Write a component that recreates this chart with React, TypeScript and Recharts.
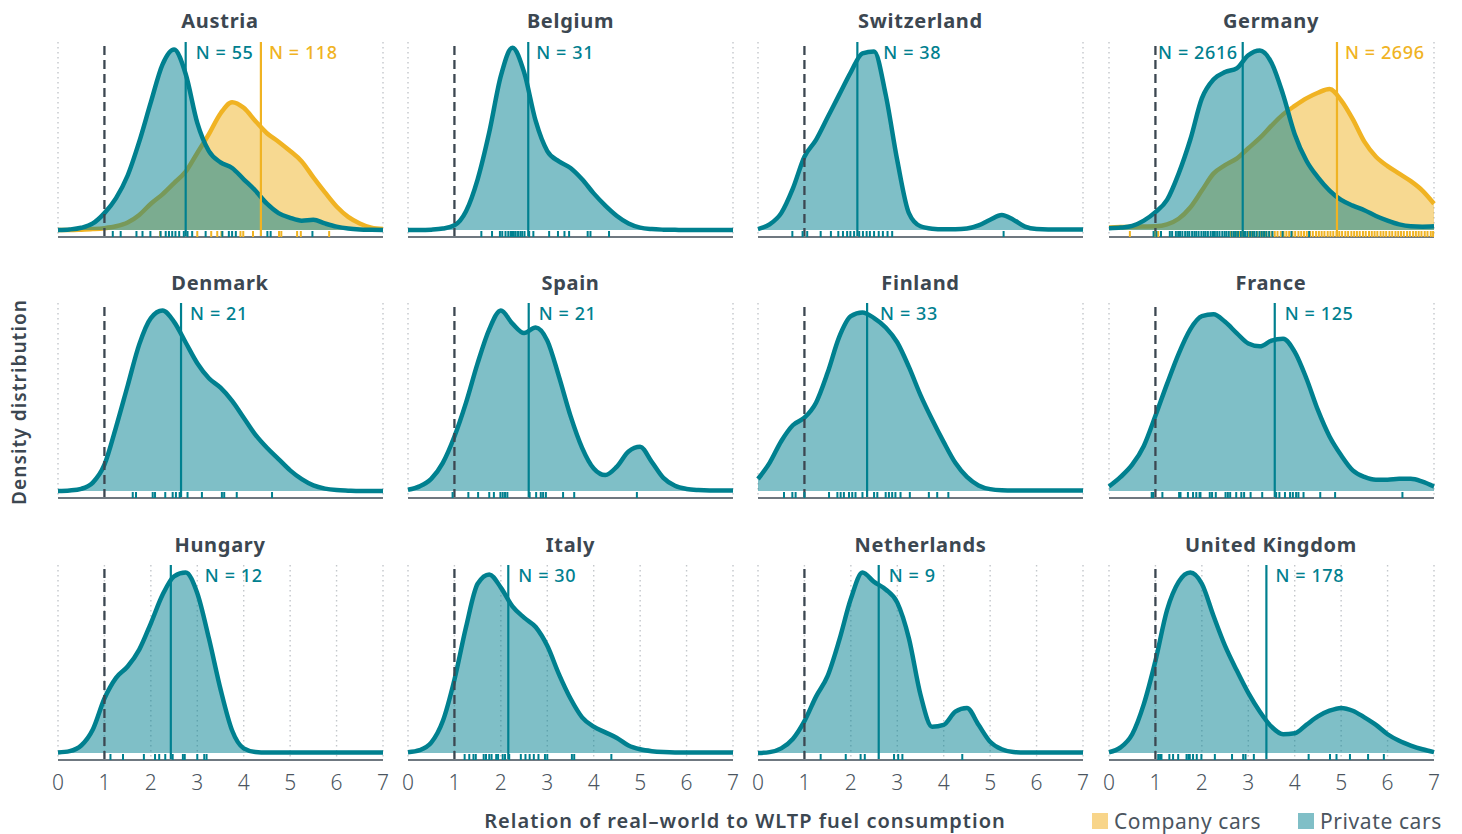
import { ComposedChart, Area, Scatter, XAxis, YAxis, CartesianGrid, ReferenceLine } from 'recharts';

// ── data ────────────────────────────────────────────────────────────────
const XS = [0, 0.25, 0.5, 0.75, 1, 1.25, 1.5, 1.75, 2, 2.25, 2.5, 2.75, 3, 3.25, 3.5, 3.75, 4, 4.25, 4.5, 4.75, 5, 5.25, 5.5, 5.75, 6, 6.25, 6.5, 6.75, 7];
const X_TICKS = [0, 1, 2, 3, 4, 5, 6, 7];

// density curves, scaled so that the panel top is 100
const austriaPrivate = [0, 0.3, 1.2, 3.5, 9, 17, 29, 47, 68, 88, 96, 83, 57, 42, 36, 33, 27, 21, 14, 9, 6.5, 5, 5.5, 3.5, 1.8, 0.8, 0.3, 0.1, 0];
const austriaCompany = [0, 0, 0.2, 0.5, 1, 2, 4, 8, 14, 19, 25, 31, 41, 51, 62, 68, 65, 58, 51.5, 47, 42, 36.5, 28, 20, 12.5, 7, 3.5, 1.2, 0.5];
const belgiumPrivate = [0, 0, 0.2, 0.8, 2.5, 10, 27, 52, 82, 97, 84, 58, 42, 36.5, 33, 27, 19.5, 13, 7.5, 3.5, 1.3, 0.5, 0.2, 0.1, 0, 0, 0, 0, 0];
const switzerlandPrivate = [0.5, 3, 9, 22, 39, 48, 60, 72, 84, 94, 95, 72, 37, 9, 2, 0.7, 0.4, 0.4, 0.8, 2.5, 5.5, 8, 5.5, 1.8, 0.5, 0.3, 0.3, 0.3, 0.3];
const germanyPrivate = [1, 1.3, 2.2, 5, 9.5, 16, 30, 48, 70, 80, 84, 86, 93, 95.5, 89, 72, 51, 37, 28, 21, 16, 13, 10.5, 7.5, 5, 3, 2, 1.8, 2];
const germanyCompany = [1.4, 1.6, 1.8, 1.9, 2, 3, 6, 12, 21, 30, 34.5, 38, 43.5, 49, 55.5, 61.5, 66, 70, 73, 75, 69, 59, 47, 39, 34, 30, 26, 21, 14];
const denmarkPrivate = [0, 0.3, 1.2, 4.5, 14, 34, 56, 78, 92, 96, 90, 79, 68, 60, 55, 48, 39, 30, 23, 17, 11, 6.3, 3, 1.3, 0.5, 0.2, 0, 0, 0];
const spainPrivate = [0.7, 2.5, 6.5, 15, 29, 47, 68, 86, 96, 89, 84, 87, 80, 61, 40, 23, 12, 8.5, 13, 21, 23.5, 15.5, 7, 2.8, 1.1, 0.5, 0.3, 0.3, 0.3];
const finlandPrivate = [6.4, 15, 26.5, 35, 39, 47, 63, 82, 93, 95, 92, 87, 79, 66, 51, 38, 26, 15, 7.5, 3, 1, 0.4, 0.3, 0.3, 0.3, 0.3, 0.3, 0.3, 0.3];
const francePrivate = [2.4, 7.5, 14, 24, 40, 57, 73, 86, 93, 94, 90, 84, 78.5, 77, 80, 81, 74, 60, 43, 29, 19, 11, 7.5, 6, 6, 6.5, 6.5, 5, 2.4];
const hungaryPrivate = [0.3, 1, 4, 12.5, 29, 40, 46, 55, 69, 84, 94, 96, 85, 61, 34, 12, 2.5, 0.6, 0.3, 0.3, 0.3, 0.3, 0.3, 0.3, 0.3, 0.3, 0.3, 0.3, 0.3];
const italyPrivate = [0.4, 1.5, 5.5, 17, 39, 67, 90, 95, 88, 78, 72, 67, 57, 42, 29, 19, 14, 11, 8, 4, 2, 1, 0.5, 0.3, 0.3, 0.3, 0.3, 0.3, 0.3];
const netherlandsPrivate = [0, 0.5, 2.5, 7.5, 17, 30, 41, 60, 82, 96, 91, 87, 80, 61, 31, 14, 15, 22, 24, 15, 6, 2, 0.5, 0.3, 0.3, 0.3, 0.3, 0.3, 0.3];
const ukPrivate = [0.4, 3, 10, 26, 49, 76, 91, 96, 90, 73, 57, 44, 32, 22, 14, 10, 10.5, 15, 19.5, 22.5, 24, 22.5, 19, 15, 10, 6.5, 4, 2, 0.5];

// individual observations (rug)
const austriaPrivateRug = [1.18, 1.35, 1.69, 1.82, 1.99, 2.21, 2.32, 2.39, 2.46, 2.53, 2.61, 2.71, 2.79, 2.89, 3.18, 3.54, 3.68, 3.75, 3.83, 4.51, 4.58, 5.48];
const austriaCompanyRug = [2.2, 3.0, 3.3, 3.43, 3.52, 3.93, 3.99, 4.2, 4.76, 4.81, 5.15, 5.23, 5.84];
const belgiumPrivateRug = [1.58, 1.81, 1.98, 2.03, 2.1, 2.16, 2.21, 2.24, 2.28, 2.32, 2.37, 2.42, 2.46, 2.51, 2.61, 2.7, 3.04, 3.23, 3.37, 3.47, 3.87, 3.93, 4.33];
const switzerlandPrivateRug = [0.74, 0.96, 1.06, 1.35, 1.57, 1.73, 1.83, 1.92, 1.99, 2.07, 2.18, 2.26, 2.34, 2.41, 2.5, 2.6, 2.69, 2.79, 2.89, 5.29];
const germanyPrivateRug = [0.96, 1.02, 1.12, 1.31, 1.36, 1.44, 1.49, 1.53, 1.58, 1.64, 1.69, 1.73, 1.79, 1.84, 1.88, 1.93, 1.99, 2.04, 2.08, 2.13, 2.19, 2.24, 2.28, 2.33, 2.38, 2.44, 2.49, 2.53, 2.58, 2.64, 2.69, 2.73, 2.78, 2.84, 2.89, 2.93, 2.98, 3.04, 3.09, 3.13, 3.18, 3.24, 3.29, 3.34, 3.39, 3.45, 3.52, 3.74, 3.93, 4.31];
const germanyCompanyRug = [0.45, 1.0, 1.06, 2.62, 2.68, 2.75, 2.8, 2.87, 2.93, 3.01, 3.06, 3.12, 3.19, 3.25, 3.32, 3.38, 3.44, 3.5, 3.57, 3.63, 3.7, 3.76, 3.82, 3.88, 3.95, 4.01, 4.08, 4.14, 4.2, 4.26, 4.33, 4.39, 4.46, 4.52, 4.58, 4.64, 4.71, 4.77, 4.83, 4.9, 4.96, 5.02, 5.09, 5.15, 5.22, 5.28, 5.34, 5.4, 5.47, 5.53, 5.6, 5.66, 5.72, 5.78, 5.85, 5.91, 5.97, 6.04, 6.1, 6.17, 6.23, 6.29, 6.35, 6.42, 6.48, 6.55, 6.61, 6.67, 6.73, 6.8, 6.86, 6.93, 6.98];
const denmarkPrivateRug = [1.61, 1.68, 2.04, 2.09, 2.31, 2.47, 2.54, 2.62, 2.79, 3.1, 3.53, 3.58, 3.85, 4.61];
const spainPrivateRug = [0.96, 1.3, 1.51, 1.75, 1.85, 1.99, 2.04, 2.09, 2.14, 2.62, 2.76, 2.86, 2.91, 2.97, 3.34, 3.58, 4.93];
const finlandPrivateRug = [0.56, 0.74, 0.81, 1.0, 1.53, 1.71, 1.78, 1.85, 1.96, 2.03, 2.1, 2.25, 2.5, 2.57, 2.75, 2.82, 2.89, 2.96, 3.07, 3.27, 3.68, 3.86, 4.1];
const francePrivateRug = [0.92, 0.95, 1.15, 1.51, 1.54, 1.7, 1.81, 1.88, 1.95, 1.97, 2.17, 2.22, 2.3, 2.51, 2.56, 2.61, 2.74, 2.85, 2.91, 3.05, 3.3, 3.6, 3.67, 3.79, 3.9, 3.96, 4.03, 4.08, 4.19, 4.55, 4.87, 6.32];
const hungaryPrivateRug = [1.13, 1.4, 1.85, 2.09, 2.18, 2.31, 2.47, 2.69, 2.73, 3.0, 3.15, 3.2];
const italyPrivateRug = [1.22, 1.32, 1.41, 1.46, 1.63, 1.68, 1.75, 1.8, 1.9, 1.94, 2.04, 2.09, 2.18, 2.43, 2.53, 2.62, 2.71, 2.81, 2.95, 3.0, 3.53, 3.58, 4.38];
const netherlandsPrivateRug = [1.35, 1.89, 2.21, 2.3, 2.93, 3.02, 3.11, 4.4];
const ukPrivateRug = [1.06, 1.1, 1.13, 1.3, 1.38, 1.49, 1.67, 1.71, 1.74, 1.81, 1.89, 1.99, 2.28, 2.65, 2.89, 2.94, 3.12, 4.3, 4.76, 4.9, 5.19, 5.58, 5.92];

const countries = ['Austria', 'Belgium', 'Switzerland', 'Germany', 'Denmark', 'Spain', 'Finland', 'France', 'Hungary', 'Italy', 'Netherlands', 'United Kingdom'];
const privateMedians = [2.75, 2.59, 2.14, 2.88, 2.65, 2.6, 2.35, 3.57, 2.43, 2.16, 2.6, 3.39];
const privateCounts = [55, 31, 38, 2616, 21, 21, 33, 125, 12, 30, 9, 178];
const companyMedians = [4.37, null, null, 4.91, null, null, null, null, null, null, null, null];
const companyCounts = [118, null, null, 2696, null, null, null, null, null, null, null, null];
const privateCurves = [austriaPrivate, belgiumPrivate, switzerlandPrivate, germanyPrivate, denmarkPrivate, spainPrivate, finlandPrivate, francePrivate, hungaryPrivate, italyPrivate, netherlandsPrivate, ukPrivate];
const companyCurves = [austriaCompany, null, null, germanyCompany, null, null, null, null, null, null, null, null];
const privateRugs = [austriaPrivateRug, belgiumPrivateRug, switzerlandPrivateRug, germanyPrivateRug, denmarkPrivateRug, spainPrivateRug, finlandPrivateRug, francePrivateRug, hungaryPrivateRug, italyPrivateRug, netherlandsPrivateRug, ukPrivateRug];
const companyRugs = [austriaCompanyRug, null, null, germanyCompanyRug, null, null, null, null, null, null, null, null];
const REFERENCE_X = 1;

// ── styling ─────────────────────────────────────────────────────────────
const TEAL = '#00808f';
const YELLOW = '#f0b323';
const DARK = '#3c4751';
const FONT = '"Noto Sans", "Open Sans", sans-serif';

const PANEL_X0 = [57.5, 408, 758, 1108.5];
const PANEL_TOP = [42, 303, 565];
const PLOT_W = 325;
const PLOT_H = 195;
const M = { top: 5, right: 10, left: 10, bottom: 0 };
// gap between a median line and its "N = .." label (negative = label on the left)
const LABEL_GAP = [10, 8, 26, -5, 9, 10, 13, 10, 34, 10, 10, 9];

const rugShape = (color: string) => (props: any) => {
    const { cx, cy } = props;
    return <line x1={cx} x2={cx} y1={cy + 1} y2={cy + 7.5} stroke={color} strokeWidth={2} />;
};

const medianLabel = (text: string, color: string, gap: number) => (props: any) => {
    const vb = props.viewBox;
    return (
        <text x={vb.x + gap} y={vb.y + 10} fill={color} fontSize={18} fontFamily={FONT} fontWeight={500}
            letterSpacing={0.6} textAnchor={gap < 0 ? 'end' : 'start'} dominantBaseline="central">
            {text}
        </text>
    );
};

function Panel({ idx }: { idx: number }) {
    const col = idx % 4;
    const row = Math.floor(idx / 4);
    const priv = privateCurves[idx];
    const comp = companyCurves[idx];
    const data = XS.map((x, i) => ({ x, p: priv[i], c: comp ? comp[i] : null }));
    const pRug = privateRugs[idx].map((x) => ({ x, y: 0 }));
    const cRug = companyRugs[idx] ? companyRugs[idx]!.map((x) => ({ x, y: 0 })) : null;
    const bottom = row === 2;

    return (
        <div style={{ position: 'absolute', left: PANEL_X0[col] - M.left, top: PANEL_TOP[row] - M.top }}>
            <ComposedChart width={PLOT_W + M.left + M.right} height={PLOT_H + M.top + 40} data={data} margin={M}>
                <CartesianGrid horizontal={false} stroke="#c3c7cb" strokeWidth={1.4} strokeDasharray="1.5 3.5" />
                <XAxis
                    dataKey="x"
                    type="number"
                    domain={[0, 7]}
                    ticks={X_TICKS}
                    height={40}
                    axisLine={{ stroke: '#6f7880', strokeWidth: 2 }}
                    tickLine={false}
                    tickSize={0}
                    tickMargin={15}
                    tick={bottom ? { fill: '#4b5560', fontSize: 21, fontFamily: FONT, fontWeight: 300 } : false}
                    interval={0}
                />
                <YAxis hide type="number" domain={[-3.7, 100]} allowDataOverflow />
                {comp && (
                    <Area type="monotone" dataKey="c" baseValue={0} stroke={YELLOW} strokeWidth={4.5}
                        fill={YELLOW} fillOpacity={0.5} isAnimationActive={false} dot={false} activeDot={false} />
                )}
                <Area type="monotone" dataKey="p" baseValue={0} stroke={TEAL} strokeWidth={4.5}
                    fill={TEAL} fillOpacity={0.5} isAnimationActive={false} dot={false} activeDot={false} />
                {cRug && <Scatter data={cRug} dataKey="y" shape={rugShape(YELLOW)} isAnimationActive={false} />}
                <Scatter data={pRug} dataKey="y" shape={rugShape(TEAL)} isAnimationActive={false} />
                <ReferenceLine x={REFERENCE_X} stroke={DARK} strokeWidth={2.3} strokeDasharray="9 5" />
                {companyMedians[idx] != null && (
                    <ReferenceLine x={companyMedians[idx]!} stroke={YELLOW} strokeWidth={2.2}
                        label={medianLabel(`N = ${companyCounts[idx]}`, YELLOW, 8)} />
                )}
                <ReferenceLine x={privateMedians[idx]} stroke={TEAL} strokeWidth={2.2}
                    label={medianLabel(`N = ${privateCounts[idx]}`, TEAL, LABEL_GAP[idx])} />
            </ComposedChart>
        </div>
    );
}

export default function App() {
    return (
        <div style={{ position: 'fixed', left: 0, top: 0, width: 1462, height: 834, background: '#fff', fontFamily: FONT }}>
            {countries.map((_, i) => (
                <Panel key={i} idx={i} />
            ))}
            <svg width={1462} height={834} style={{ position: 'absolute', left: 0, top: 0, pointerEvents: 'none' }}>
                {countries.map((name, i) => (
                    <text key={name} x={PANEL_X0[i % 4] + PLOT_W / 2} y={20 + Math.floor(i / 4) * 262}
                        textAnchor="middle" dominantBaseline="central" fontSize={20} fontWeight={700}
                        letterSpacing={0.7} fill={DARK} fontFamily={FONT}>
                        {name}
                    </text>
                ))}
                <text x={19} y={402} transform="rotate(-90 19 402)" textAnchor="middle" dominantBaseline="central"
                    fontSize={19} fontWeight={600} letterSpacing={1.1} fill={DARK} fontFamily={FONT}>
                    Density distribution
                </text>
                <text x={745} y={820} textAnchor="middle" dominantBaseline="central"
                    fontSize={20} fontWeight={600} letterSpacing={1} fill={DARK} fontFamily={FONT}>
                    Relation of real–world to WLTP fuel consumption
                </text>
                <rect x={1092} y={813} width={16} height={16} fill="#f8d58a" />
                <text x={1114} y={821} dominantBaseline="central" fontSize={21} letterSpacing={0.6} fill="#4b5560" fontFamily={FONT}>
                    Company cars
                </text>
                <rect x={1298} y={813} width={16} height={16} fill="#80bfc7" />
                <text x={1320} y={821} dominantBaseline="central" fontSize={21} letterSpacing={0.6} fill="#4b5560" fontFamily={FONT}>
                    Private cars
                </text>
            </svg>
        </div>
    );
}
